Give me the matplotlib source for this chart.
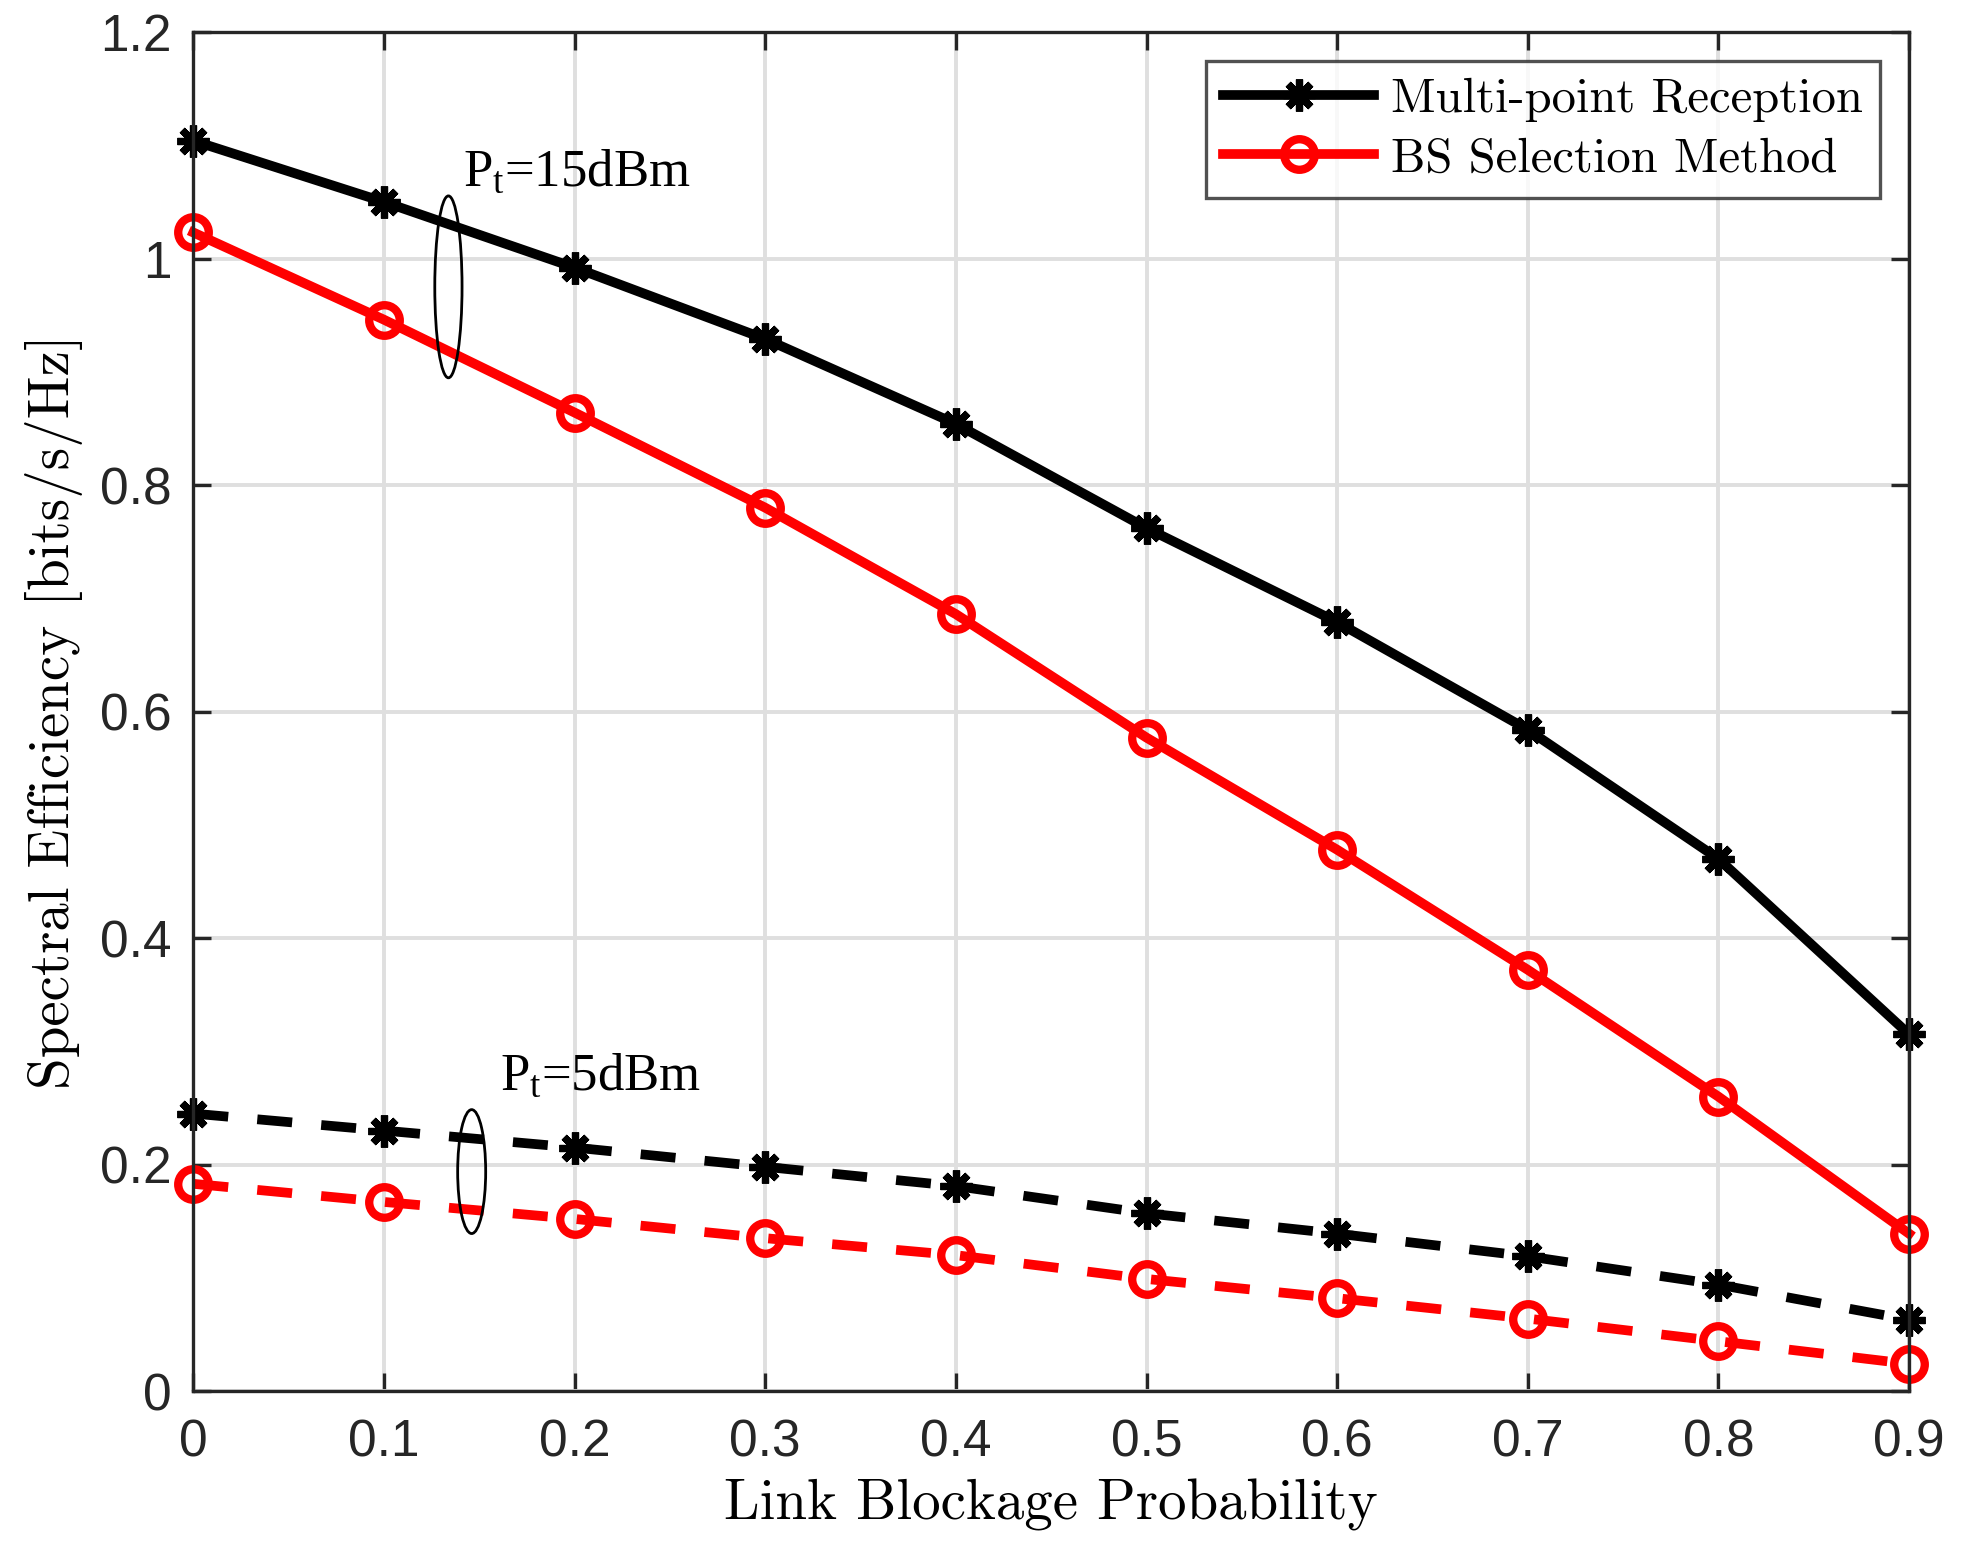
import matplotlib
matplotlib.use("Agg")
import matplotlib.pyplot as plt
from matplotlib.patches import Ellipse

# ---- data ----
blockage = [0, 0.1, 0.2, 0.3, 0.4, 0.5, 0.6, 0.7, 0.8, 0.9]
multi_15 = [1.104, 1.050, 0.992, 0.929, 0.854, 0.762, 0.679, 0.584, 0.470, 0.315]
bs_15 = [1.023, 0.946, 0.864, 0.780, 0.686, 0.577, 0.478, 0.372, 0.260, 0.139]
multi_5 = [0.245, 0.230, 0.215, 0.198, 0.181, 0.157, 0.139, 0.119, 0.094, 0.063]
bs_5 = [0.183, 0.167, 0.152, 0.135, 0.120, 0.099, 0.082, 0.064, 0.044, 0.024]

xticks = [0, 0.1, 0.2, 0.3, 0.4, 0.5, 0.6, 0.7, 0.8, 0.9]
xticklabels = ["0", "0.1", "0.2", "0.3", "0.4", "0.5", "0.6", "0.7", "0.8", "0.9"]
yticks = [0, 0.2, 0.4, 0.6, 0.8, 1.0, 1.2]
yticklabels = ["0", "0.2", "0.4", "0.6", "0.8", "1", "1.2"]

legend_labels = ["Multi-point Reception", "BS Selection Method"]
xlabel = "Link Blockage Probability"
ylabel = "Spectral Efficiency [bits/s/Hz]"

plt.rcParams['mathtext.fontset'] = 'custom'
plt.rcParams['mathtext.rm'] = 'Liberation Serif'
plt.rcParams['mathtext.it'] = 'Liberation Serif:italic'
plt.rcParams['axes.unicode_minus'] = False

AX = '#262626'
CMF = ['cmr10', 'DejaVu Serif']
fig = plt.figure(figsize=(19.63, 15.63), dpi=100)
ax = fig.add_axes([0.0985, 0.110, 0.9725 - 0.0985, 0.9795 - 0.110])

LW = 7
star = (8, 2, 0)
SMS, SMEW = 23, 5.2
CMS, CMEW = 22, 6
DASH = (0, (3.6, 3.0))
ax.plot(blockage, multi_15, color='black', lw=LW, marker=star, ms=SMS, mew=SMEW,
        label=legend_labels[0], zorder=3, clip_on=False)
ax.plot(blockage, bs_15, color='red', lw=LW, marker='o', ms=CMS, mew=CMEW,
        mfc='none', label=legend_labels[1], zorder=3, clip_on=False)
ax.plot(blockage, multi_5, color='black', lw=LW, ls=DASH, marker=star,
        ms=SMS, mew=SMEW, zorder=3, clip_on=False)
ax.plot(blockage, bs_5, color='red', lw=LW, ls=DASH, marker='o', ms=CMS,
        mew=CMEW, mfc='none', zorder=3, clip_on=False)

ax.set_xlim(0, 0.9)
ax.set_ylim(0, 1.2)
ax.set_xticks(xticks)
ax.set_xticklabels(xticklabels)
ax.set_yticks(yticks)
ax.set_yticklabels(yticklabels)
ax.grid(True, color='#dfdfdf', lw=2.8)
ax.set_axisbelow(True)
for s in ax.spines.values():
    s.set_color(AX)
    s.set_linewidth(2.4)
    s.set_zorder(4)
ax.tick_params(direction='in', length=13, width=2.4, color=AX, labelcolor=AX,
               labelsize=37, top=True, right=True)
ax.tick_params(axis='x', pad=20)
ax.tick_params(axis='y', pad=16)
for t in ax.get_xticklabels() + ax.get_yticklabels():
    t.set_fontfamily('Liberation Sans')

ax.set_xlabel(xlabel, fontsize=41, fontfamily=CMF, labelpad=8)
ax.set_ylabel(ylabel, fontsize=41, fontfamily=CMF, labelpad=12)

leg = ax.legend(loc='upper right', prop={'size': 35, 'family': CMF},
                frameon=True, fancybox=False, edgecolor=AX, handlelength=3.1,
                borderaxespad=0.6, handletextpad=0.35, labelspacing=0.3,
                borderpad=0.35)
leg.get_frame().set_linewidth(2.4)

# annotations
ax.text(0.1413, 1.0645, r'P$_{\mathrm{t}}$=15dBm', fontsize=38,
        fontfamily='Liberation Serif', va='baseline', ha='left')
ax.text(0.1608, 0.266, r'P$_{\mathrm{t}}$=5dBm', fontsize=38,
        fontfamily='Liberation Serif', va='baseline', ha='left')
ax.add_patch(Ellipse((0.1338, 0.975), 0.0143, 0.1606, fill=False, ec='black', lw=2, zorder=5))
ax.add_patch(Ellipse((0.146, 0.1938), 0.0147, 0.1094, fill=False, ec='black', lw=2, zorder=5))

fig.savefig('out.png', dpi=100, facecolor='white')
